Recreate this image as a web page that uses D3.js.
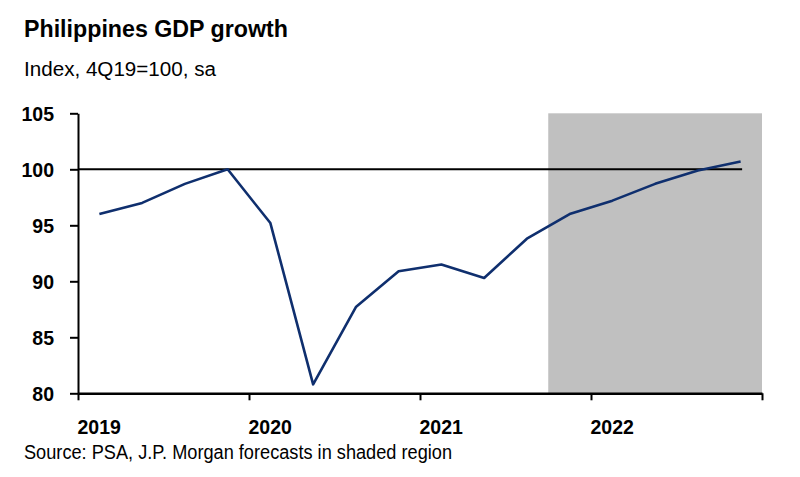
<!DOCTYPE html>
<html>
<head>
<meta charset="utf-8">
<script src="https://cdn.jsdelivr.net/npm/d3@7"></script>
<style>
  html, body { margin: 0; padding: 0; background: #fff; }
  svg { display: block; font-family: "Liberation Sans", Arial, sans-serif; }
</style>
</head>
<body>
<svg id="chart" width="800" height="477"></svg>
<script>
// ---- data ----
const quarters = ["1Q19","2Q19","3Q19","4Q19","1Q20","2Q20","3Q20","4Q20",
                  "1Q21","2Q21","3Q21","4Q21","1Q22","2Q22","3Q22","4Q22"];
const gdpIndex = [96.0, 97.0, 98.7, 100.0, 95.2, 80.8, 87.7, 90.9,
                  91.5, 90.3, 93.8, 96.0, 97.2, 98.7, 99.9, 100.7];
const yearTicks = [2019, 2020, 2021, 2022, 2023];
const yearLabels = ["2019", "2020", "2021", "2022"];
const yTicks = [80, 85, 90, 95, 100, 105];
const referenceLevel = 100;
const forecastFrom = 2021.75; // shaded forecast region start (4Q21)
const forecastTo = 2023;

const titleText = "Philippines GDP growth";
const subtitleText = "Index, 4Q19=100, sa";
const sourceText = "Source: PSA, J.P. Morgan forecasts in shaded region";

// quarter label -> fractional year at middle of quarter
const qTime = q => 2000 + (+q.slice(2)) + ((+q[0]) - 0.5) / 4;

const svg = d3.select("#chart");
const x = d3.scaleLinear().domain([2019, 2023]).range([78, 762]);
const y = d3.scaleLinear().domain([80, 105]).range([393.3, 113.3]);

// shaded forecast region
svg.append("rect")
  .attr("x", x(forecastFrom))
  .attr("y", y(105))
  .attr("width", x(forecastTo) - x(forecastFrom))
  .attr("height", y(80) - y(105))
  .attr("fill", "#c0c0c0");

// reference line at 100
svg.append("line")
  .attr("x1", x(2019)).attr("x2", x(qTime(quarters[quarters.length - 1])) + 1.5)
  .attr("y1", y(referenceLevel)).attr("y2", y(referenceLevel))
  .attr("stroke", "#000").attr("stroke-width", 2);

// GDP line
const lineGen = d3.line()
  .x((d, i) => x(qTime(quarters[i])))
  .y(d => y(d));
svg.append("path")
  .datum(gdpIndex)
  .attr("d", lineGen)
  .attr("fill", "none")
  .attr("stroke", "#0f2f6e")
  .attr("stroke-width", 2.6)
  .attr("stroke-linejoin", "round");

// y axis
const yAxis = d3.axisLeft(y).tickValues(yTicks).tickSize(8).tickSizeOuter(0).tickPadding(16);
const gy = svg.append("g").attr("transform", `translate(${x(2019)},0)`).call(yAxis);
gy.select(".domain").attr("stroke", "#000").attr("stroke-width", 2);
gy.selectAll(".tick line").attr("stroke", "#000").attr("stroke-width", 2);
gy.selectAll(".tick text")
  .attr("fill", "#000")
  .style("font-size", "19.5px").style("font-weight", "bold")
  .style("font-family", "'Liberation Sans', Arial, sans-serif")
  .attr("dy", "0.36em");

// x axis
const xAxis = d3.axisBottom(x).tickValues(yearTicks).tickSize(7).tickSizeOuter(0).tickFormat("");
const gx = svg.append("g").attr("transform", `translate(0,${y(80)})`).call(xAxis);
gx.select(".domain").attr("stroke", "#000").attr("stroke-width", 2.4);
gx.selectAll(".tick line").attr("stroke", "#000").attr("stroke-width", 2);

// year labels (left aligned at ticks)
svg.append("g").selectAll("text")
  .data(yearLabels)
  .join("text")
  .attr("x", d => x(+d) - 0.5)
  .attr("y", 433.5)
  .attr("text-anchor", "start")
  .attr("fill", "#000")
  .style("font-size", "19.5px").style("font-weight", "bold")
  .text(d => d);

// titles
svg.append("text")
  .attr("x", 24).attr("y", 37)
  .attr("textLength", 264).attr("lengthAdjust", "spacingAndGlyphs")
  .style("font-size", "23.5px").style("font-weight", "bold")
  .attr("fill", "#000")
  .text(titleText);

svg.append("text")
  .attr("x", 24).attr("y", 76)
  .attr("textLength", 192).attr("lengthAdjust", "spacingAndGlyphs")
  .style("font-size", "20px")
  .attr("fill", "#000")
  .text(subtitleText);

svg.append("text")
  .attr("x", 24).attr("y", 458.5)
  .attr("textLength", 428).attr("lengthAdjust", "spacingAndGlyphs")
  .style("font-size", "20px")
  .attr("fill", "#000")
  .text(sourceText);
</script>
</body>
</html>
